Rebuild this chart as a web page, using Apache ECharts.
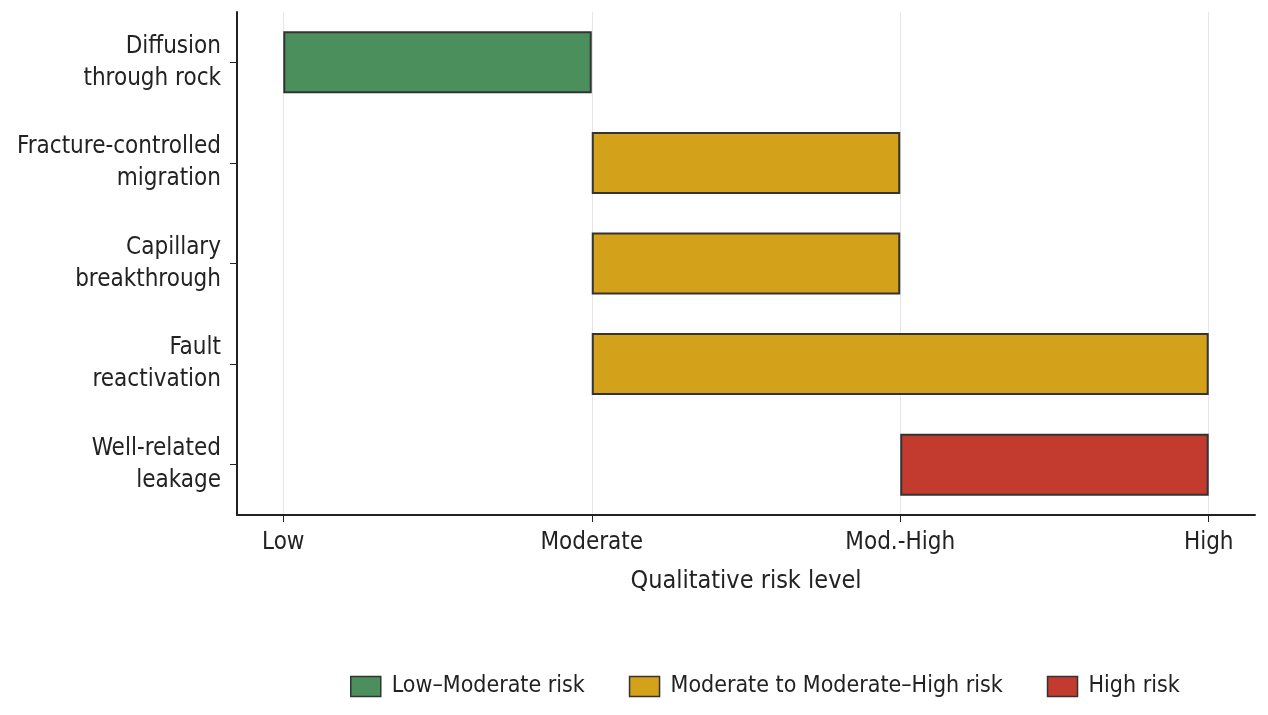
<!DOCTYPE html>
<html lang="en">
<head>
<meta charset="UTF-8">
<title>Risk chart</title>
<script src="https://cdn.jsdelivr.net/npm/echarts@6/dist/echarts.min.js"></script>
</head>
<body style="margin:0">
<div id="main" style="width:1268px;height:715px;"></div>
<script>
var categories = ['Diffusion\nthrough rock', 'Fracture-controlled\nmigration', 'Capillary\nbreakthrough', 'Fault\nreactivation', 'Well-related\nleakage'];
var tickLabels = ['Low', 'Moderate', 'Mod.-High', 'High'];
var starts = [0, 1, 1, 1, 2];
var ends = [1, 2, 2, 3, 3];
var groups = ['Low\u2013Moderate risk', 'Moderate to Moderate\u2013High risk', 'Moderate to Moderate\u2013High risk', 'Moderate to Moderate\u2013High risk', 'High risk'];
var groupNames = ['Low\u2013Moderate risk', 'Moderate to Moderate\u2013High risk', 'High risk'];
var groupColors = ['#4a8f5c', '#d4a21a', '#c23b2e'];

var font = 'DejaVu Sans Condensed, DejaVu Sans';
var myChart = echarts.init(document.getElementById('main'));

var series = [{
    type: 'bar', stack: 'r', silent: true, barWidth: 62, z: 1,
    itemStyle: { color: 'transparent' },
    data: starts,
    markLine: {
        silent: true, symbol: 'none', label: { show: false }, z: 0,
        lineStyle: { color: '#e6e6e6', type: 'solid', width: 1 },
        data: [0, 1, 2, 3].map(function (v) { return { xAxis: v }; })
    }
}];
groupNames.forEach(function (g, gi) {
    series.push({
        name: g, type: 'bar', stack: 'r', barWidth: 62, z: 5,
        itemStyle: { color: groupColors[gi], borderColor: '#333', borderWidth: 2 },
        data: ends.map(function (e, i) { return groups[i] === g ? e - starts[i] : '-'; })
    });
});

var option = {
    animation: false,
    textStyle: { fontFamily: font },
    grid: { left: 237, right: 13, top: 12, bottom: 200 },
    legend: {
        data: groupNames, bottom: 12, left: 345, icon: 'rect',
        itemWidth: 30, itemHeight: 20, itemGap: 44,
        itemStyle: { borderColor: '#333', borderWidth: 1.5 },
        textStyle: { fontSize: 23, color: '#222', fontFamily: font, padding: [0, 0, 0, 6] }
    },
    xAxis: {
        type: 'value', min: -0.15, max: 3.15,
        name: 'Qualitative risk level', nameLocation: 'middle', nameGap: 54,
        nameTextStyle: { fontSize: 25, color: '#222' },
        axisLine: { show: true, lineStyle: { color: '#222', width: 2 } },
        splitLine: { show: false },
        axisTick: { show: true, customValues: [0, 1, 2, 3], length: 7, lineStyle: { color: '#222' } },
        axisLabel: {
            customValues: [0, 1, 2, 3], fontSize: 24, color: '#222', margin: 16,
            formatter: function (v) { return tickLabels[Math.round(v)]; }
        }
    },
    yAxis: {
        type: 'category', data: categories, inverse: true,
        axisLine: { show: true, onZero: false, lineStyle: { color: '#222', width: 2 } },
        axisTick: { show: true, alignWithLabel: true, length: 7, lineStyle: { color: '#222' } },
        axisLabel: { fontSize: 24, color: '#222', lineHeight: 32, margin: 16 }
    },
    series: series
};
myChart.setOption(option);
</script>
</body>
</html>
